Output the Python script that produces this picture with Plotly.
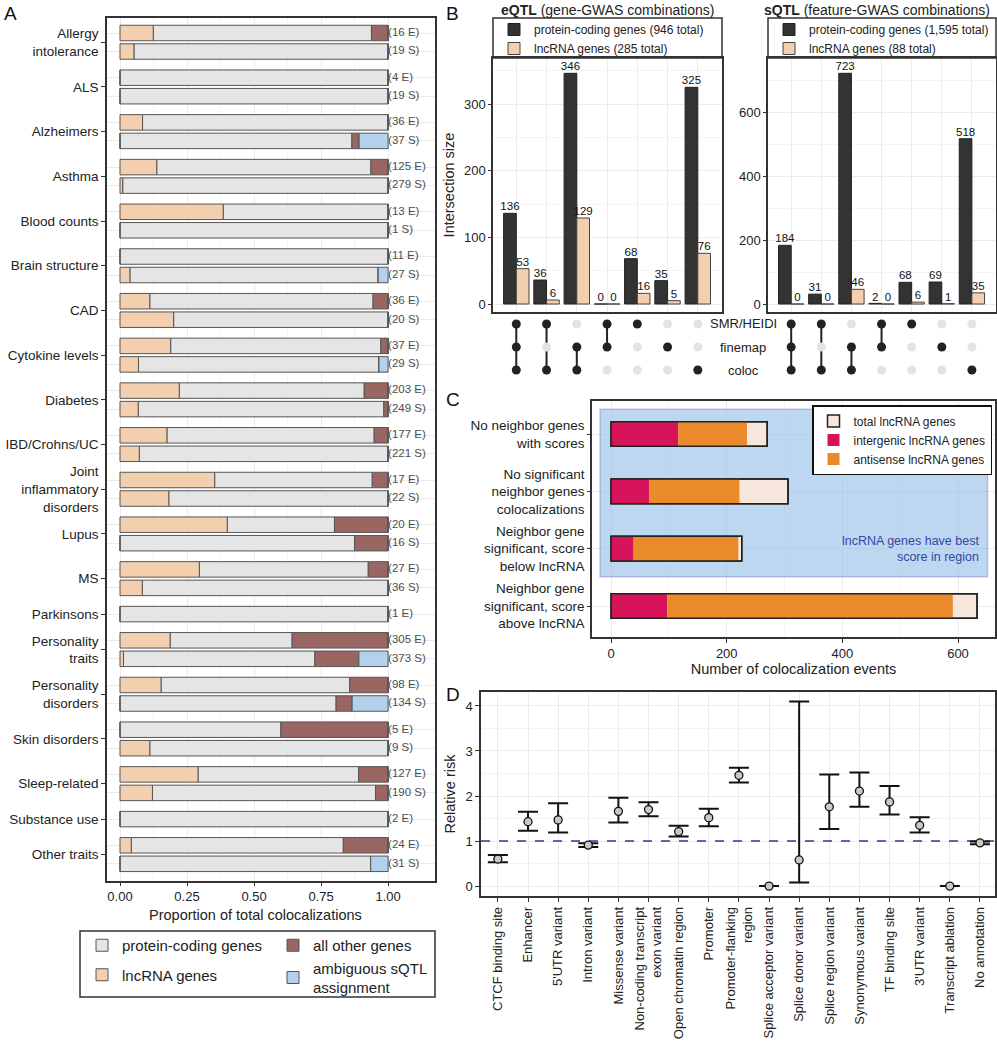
import plotly.graph_objects as go

W, H = 997, 1050
FONT = "Liberation Sans"

def fx(p):
    return p / W

def fy(p):
    return 1 - p / H

# ---------------- Panel A data ----------------
trait_names = ["Allergy<br>intolerance", "ALS", "Alzheimers", "Asthma", "Blood counts",
               "Brain structure", "CAD", "Cytokine levels", "Diabetes", "IBD/Crohns/UC",
               "Joint<br>inflammatory<br>disorders", "Lupus", "MS", "Parkinsons",
               "Personality<br>traits", "Personality<br>disorders", "Skin disorders",
               "Sleep-related", "Substance use", "Other traits"]
bar_trait = [0, 0, 1, 1, 2, 2, 3, 3, 4, 4, 5, 5, 6, 6, 7, 7, 8, 8, 9, 9,
             10, 10, 11, 11, 12, 12, 13, 14, 14, 15, 15, 16, 16, 17, 17, 18, 19, 19]
bar_label = ["(16 E)", "(19 S)", "(4 E)", "(19 S)", "(36 E)", "(37 S)", "(125 E)", "(279 S)",
             "(13 E)", "(1 S)", "(11 E)", "(27 S)", "(36 E)", "(20 S)", "(37 E)", "(29 S)",
             "(203 E)", "(249 S)", "(177 E)", "(221 S)", "(17 E)", "(22 S)", "(20 E)", "(16 S)",
             "(27 E)", "(36 S)", "(1 E)", "(305 E)", "(373 S)", "(98 E)", "(134 S)",
             "(5 E)", "(9 S)", "(127 E)", "(190 S)", "(2 E)", "(24 E)", "(31 S)"]
frac_lnc = [0.124, 0.052, 0, 0, 0.084, 0, 0.137, 0.010, 0.385, 0, 0, 0.037, 0.111, 0.200,
            0.189, 0.069, 0.221, 0.068, 0.175, 0.072, 0.353, 0.182, 0.400, 0, 0.296, 0.083,
            0, 0.187, 0.013, 0.153, 0, 0, 0.111, 0.291, 0.121, 0, 0.042, 0]
frac_pc = [0.814, 0.948, 1, 1, 0.916, 0.865, 0.799, 0.990, 0.615, 1, 1, 0.926, 0.833, 0.800,
           0.784, 0.897, 0.690, 0.916, 0.773, 0.928, 0.588, 0.818, 0.400, 0.875, 0.630, 0.917,
           1, 0.455, 0.714, 0.704, 0.806, 0.600, 0.889, 0.599, 0.832, 1, 0.791, 0.935]
frac_other = [0.062, 0, 0, 0, 0, 0.027, 0.064, 0, 0, 0, 0, 0, 0.056, 0,
              0.027, 0, 0.089, 0.016, 0.052, 0, 0.059, 0, 0.200, 0.125, 0.074, 0,
              0, 0.358, 0.164, 0.143, 0.060, 0.400, 0, 0.110, 0.047, 0, 0.167, 0]
frac_amb = [0, 0, 0, 0, 0, 0.108, 0, 0, 0, 0, 0, 0.037, 0, 0,
            0, 0.034, 0, 0, 0, 0, 0, 0, 0, 0, 0, 0,
            0, 0, 0.109, 0, 0.134, 0, 0, 0, 0, 0, 0, 0.065]
a_xticks = [0, 0.25, 0.5, 0.75, 1.0]

# ---------------- Panel B data ----------------
upset_cols = [0, 1, 2, 3, 4, 5, 6]
in_smr = [1, 1, 0, 1, 1, 0, 0]
in_finemap = [1, 0, 1, 1, 0, 1, 0]
in_coloc = [1, 1, 1, 0, 0, 0, 1]
set_names = ["SMR/HEIDI", "finemap", "coloc"]
eqtl_pc = [136, 36, 346, 0, 68, 35, 325]
eqtl_lnc = [53, 6, 129, 0, 16, 5, 76]
sqtl_pc = [184, 31, 723, 2, 68, 69, 518]
sqtl_lnc = [0, 0, 46, 0, 6, 1, 35]
eqtl_names = ["protein-coding genes (946 total)", "lncRNA genes (285 total)"]
sqtl_names = ["protein-coding genes (1,595 total)", "lncRNA genes (88 total)"]

# ---------------- Panel C data ----------------
c_categories = ["No neighbor genes<br>with scores", "No significant<br>neighbor genes<br>colocalizations",
                "Neighbor gene<br>significant, score<br>below lncRNA",
                "Neighbor gene<br>significant, score<br>above lncRNA"]
c_total = [270, 306, 226, 633]
c_intergenic = [116, 66, 39, 97]
c_antisense = [119, 156, 181, 494]

# ---------------- Panel D data ----------------
d_categories = ["CTCF binding site", "Enhancer", "5'UTR variant", "Intron variant",
                "Missense variant", "Non-coding transcript<br>exon variant", "Open chromatin region",
                "Promoter", "Promoter-flanking<br>region", "Splice acceptor variant",
                "Splice donor variant", "Splice region variant", "Synonymous variant",
                "TF binding site", "3'UTR variant", "Transcript ablation", "No annotation"]
d_rr = [0.60, 1.43, 1.47, 0.91, 1.66, 1.70, 1.21, 1.52, 2.46, 0.0, 0.58, 1.76, 2.11, 1.87, 1.35, 0.0, 0.96]
d_low = [0.53, 1.23, 1.19, 0.87, 1.41, 1.55, 1.10, 1.33, 2.30, 0.0, 0.08, 1.27, 1.76, 1.59, 1.19, 0.0, 0.93]
d_high = [0.69, 1.65, 1.84, 0.95, 1.96, 1.86, 1.34, 1.72, 2.63, 0.0, 4.10, 2.48, 2.52, 2.22, 1.53, 0.0, 0.99]
d_null = 1.0

# colours
C_PC = "#e5e5e5"
C_LNC = "#f3cfb0"
C_OTHER = "#9a6664"
C_AMB = "#b3d0ec"
C_DARK = "#333333"
C_TOT = "#f7e6dc"
C_INT = "#d7145a"
C_ANTI = "#ea8a2b"
GRID = "#ebebeb"
BORDER = "#333333"

fig = go.Figure()

# ---- Panel A positions (layout spacing from group membership) ----
within_gap, between_gap = 18.5, 26.2
ypos = []
cur = 0.0
for i, t in enumerate(bar_trait):
    if i > 0:
        cur += within_gap if bar_trait[i - 1] == t else between_gap
    ypos.append(cur)
group_centers = []
for g in range(len(trait_names)):
    ys = [ypos[i] for i in range(len(bar_trait)) if bar_trait[i] == g]
    group_centers.append(sum(ys) / len(ys))

base_pc = list(frac_lnc)
base_other = [a + b for a, b in zip(frac_lnc, frac_pc)]
base_amb = [a + b for a, b in zip(base_other, frac_other)]
bar_h = 15.5
seg_line = dict(color="#555555", width=1)
fig.add_trace(go.Bar(orientation="h", y=ypos, x=frac_pc, base=base_pc, width=bar_h,
                     marker=dict(color=C_PC, line=seg_line), name="protein-coding genes",
                     xaxis="x", yaxis="y", legend="legend", legendgroup="a1"))
fig.add_trace(go.Bar(orientation="h", y=ypos, x=frac_lnc, base=[0] * len(ypos), width=bar_h,
                     marker=dict(color=C_LNC, line=seg_line), name="lncRNA genes",
                     xaxis="x", yaxis="y", legend="legend", legendgroup="a2"))
fig.add_trace(go.Bar(orientation="h", y=ypos, x=frac_other, base=base_other, width=bar_h,
                     marker=dict(color=C_OTHER, line=seg_line), name="all other genes",
                     xaxis="x", yaxis="y", legend="legend2", legendgroup="a3"))
fig.add_trace(go.Bar(orientation="h", y=ypos, x=frac_amb, base=base_amb, width=bar_h,
                     marker=dict(color=C_AMB, line=seg_line), name="ambiguous sQTL<br>assignment",
                     xaxis="x", yaxis="y", legend="legend2", legendgroup="a4"))
bar_end = [a + b for a, b in zip(base_amb, frac_amb)]
fig.add_trace(go.Scatter(x=bar_end, y=ypos, mode="text", text=bar_label,
                         textposition="middle right", cliponaxis=False,
                         textfont=dict(family=FONT, size=11.5, color="#4d4d4d"),
                         showlegend=False, hoverinfo="skip", xaxis="x", yaxis="y"))

# ---- Panel B ----
def upset(pc_vals, lnc_vals, names, xa, ya, xm, ym, leg):
    bw = 0.42
    fig.add_trace(go.Bar(x=upset_cols, y=pc_vals, width=bw, offset=-bw,
                         marker=dict(color=C_DARK, line=dict(color="#222", width=1)),
                         name=names[0], xaxis=xa, yaxis=ya, legend=leg, legendgroup=leg + "p"))
    fig.add_trace(go.Bar(x=upset_cols, y=lnc_vals, width=bw, offset=0,
                         marker=dict(color=C_LNC, line=dict(color="#444", width=1)),
                         name=names[1], xaxis=xa, yaxis=ya, legend=leg, legendgroup=leg + "l"))
    fig.add_trace(go.Scatter(x=[c - bw / 2 for c in upset_cols], y=pc_vals, mode="text",
                             text=[str(v) for v in pc_vals], textposition="top center",
                             cliponaxis=False,
                             textfont=dict(family=FONT, size=11.5, color="#111"),
                             showlegend=False, hoverinfo="skip", xaxis=xa, yaxis=ya))
    fig.add_trace(go.Scatter(x=[c + bw / 2 for c in upset_cols], y=lnc_vals, mode="text",
                             text=[str(v) for v in lnc_vals], textposition="top center",
                             cliponaxis=False,
                             textfont=dict(family=FONT, size=11.5, color="#111"),
                             showlegend=False, hoverinfo="skip", xaxis=xa, yaxis=ya))
    members = [in_smr, in_finemap, in_coloc]
    for c in upset_cols:
        rows = [r for r in range(3) if members[r][c]]
        if len(rows) > 1:
            fig.add_trace(go.Scatter(x=[c, c], y=[min(rows), max(rows)], mode="lines",
                                     line=dict(color="#222", width=2), showlegend=False,
                                     hoverinfo="skip", xaxis=xm, yaxis=ym))
    xs, ys, cols = [], [], []
    for r in range(3):
        for c in upset_cols:
            xs.append(c)
            ys.append(r)
            cols.append("#222222" if members[r][c] else "#e3e3e3")
    fig.add_trace(go.Scatter(x=xs, y=ys, mode="markers", cliponaxis=False,
                             marker=dict(color=cols, size=9), showlegend=False,
                             hoverinfo="skip", xaxis=xm, yaxis=ym))

upset(eqtl_pc, eqtl_lnc, eqtl_names, "x2", "y2", "x3", "y3", "legend3")
upset(sqtl_pc, sqtl_lnc, sqtl_names, "x4", "y4", "x5", "y5", "legend4")

# ---- Panel C ----
c_y = list(range(len(c_categories)))
cw = 0.43
fig.add_trace(go.Bar(orientation="h", y=c_y, x=c_total, base=[0] * 4, width=cw,
                     marker=dict(color=C_TOT, line=dict(color="#222", width=1.5)),
                     name="total lncRNA genes", xaxis="x6", yaxis="y6", legend="legend5",
                     legendgroup="c1"))
fig.add_trace(go.Bar(orientation="h", y=c_y, x=c_intergenic, base=[0] * 4, width=cw,
                     marker=dict(color=C_INT, line=dict(width=0)),
                     name="intergenic lncRNA genes", xaxis="x6", yaxis="y6", legend="legend5",
                     legendgroup="c2"))
fig.add_trace(go.Bar(orientation="h", y=c_y, x=c_antisense, base=c_intergenic, width=cw,
                     marker=dict(color=C_ANTI, line=dict(width=0)),
                     name="antisense lncRNA genes", xaxis="x6", yaxis="y6", legend="legend5",
                     legendgroup="c3"))
fig.add_trace(go.Bar(orientation="h", y=c_y, x=c_total, base=[0] * 4, width=cw,
                     marker=dict(color="rgba(0,0,0,0)", line=dict(color="#222", width=1.5)),
                     showlegend=False, hoverinfo="skip", xaxis="x6", yaxis="y6"))

# ---- Panel D ----
d_x = list(range(len(d_categories)))
d_xrange = [-0.56, 16.5]
fig.add_trace(go.Scatter(
    x=d_x, y=d_rr, mode="markers", cliponaxis=False,
    marker=dict(color="#c8c8c8", size=8, line=dict(color="#111", width=1.3)),
    error_y=dict(type="data", symmetric=False,
                 array=[h - r for h, r in zip(d_high, d_rr)],
                 arrayminus=[r - l for r, l in zip(d_rr, d_low)],
                 color="#111", thickness=2, width=10),
    showlegend=False, xaxis="x7", yaxis="y7"))

# ---------------- Layout ----------------
tickfont = dict(family=FONT, size=13, color="#222")
axline = dict(showline=True, linecolor=BORDER, linewidth=1.5, mirror=True)

layout = dict(
    width=W, height=H, template="none",
    margin=dict(l=0, r=0, t=0, b=0),
    paper_bgcolor="white", plot_bgcolor="white",
    font=dict(family=FONT, size=13, color="#222"),
    barmode="overlay",
)

# Panel A axes
layout["xaxis"] = dict(domain=[fx(107), fx(435)], range=[-0.0485, 1.175], anchor="y",
                       tickvals=a_xticks, ticktext=[f"{v:.2f}" for v in a_xticks],
                       ticks="outside", ticklen=3, tickcolor=BORDER, tickfont=tickfont,
                       showgrid=True, gridcolor=GRID, zeroline=False, automargin=False,
                       minor=dict(tickvals=[0.125, 0.375, 0.625, 0.875], showgrid=True,
                                  gridcolor="#f4f4f4"),
                       **axline)
layout["yaxis"] = dict(domain=[fy(881), fy(18)], range=[848, -15], anchor="x",
                       tickvals=group_centers, ticktext=trait_names, ticks="outside",
                       ticklen=4, tickcolor=BORDER, tickfont=dict(family=FONT, size=13.5, color="#222"),
                       showgrid=False, zeroline=False, automargin=False,
                       minor=dict(tickvals=ypos, showgrid=True, gridcolor=GRID, ticks=""),
                       **axline)

# Panel B axes
def b_axes(xn, yn, xmn, ymn, left, right, yrange, yticks):
    layout["xaxis" + xn] = dict(domain=[fx(left), fx(right)], range=[-0.77, 6.8], anchor="y" + yn,
                                tickvals=upset_cols, showticklabels=False, ticks="",
                                showgrid=True, gridcolor=GRID, zeroline=False, automargin=False,
                                **axline)
    layout["yaxis" + yn] = dict(domain=[fy(312), fy(58)], range=yrange, anchor="x" + xn,
                                tickvals=yticks, ticks="outside", ticklen=3, tickcolor=BORDER,
                                tickfont=tickfont, showgrid=True, gridcolor=GRID, zeroline=False,
                                automargin=False,
                                minor=dict(tickvals=[v + (yticks[1] - yticks[0]) / 2 for v in yticks],
                                           showgrid=True, gridcolor="#f4f4f4"),
                                **axline)
    layout["xaxis" + xmn] = dict(domain=[fx(left), fx(right)], matches="x" + xn, anchor="y" + ymn,
                                 showticklabels=False, ticks="", showgrid=False, zeroline=False,
                                 showline=False, automargin=False)
    layout["yaxis" + ymn] = dict(domain=[fy(382), fy(312)], range=[2.52, -0.52], anchor="x" + xmn,
                                 showticklabels=False, ticks="", showgrid=False, zeroline=False,
                                 showline=False, automargin=False)

b_axes("2", "2", "3", "3", 493, 722, [-12, 369], [0, 100, 200, 300])
b_axes("4", "4", "5", "5", 768, 996, [-25, 771], [0, 200, 400, 600])
layout["yaxis2"]["title"] = dict(text="Intersection size", font=dict(family=FONT, size=14.5, color="#222"),
                                 standoff=6)

# Panel C axes
layout["xaxis6"] = dict(domain=[fx(592), fx(995)], range=[-33, 664], anchor="y6",
                        tickvals=[0, 200, 400, 600], ticks="outside", ticklen=4, tickcolor=BORDER,
                        tickfont=tickfont, showgrid=True, gridcolor=GRID, zeroline=False,
                        automargin=False,
                        minor=dict(tickvals=[100, 300, 500], showgrid=True, gridcolor="#f4f4f4"),
                        title=dict(text="Number of colocalization events",
                                   font=dict(family=FONT, size=14.5, color="#222"), standoff=1),
                        **axline)
layout["yaxis6"] = dict(domain=[fy(637), fy(401)], range=[3.54, -0.576], anchor="x6",
                        tickvals=c_y, ticktext=c_categories, ticks="outside", ticklen=3,
                        tickcolor=BORDER, tickfont=dict(family=FONT, size=13.5, color="#222"),
                        showgrid=True, gridcolor=GRID, zeroline=False, automargin=False, **axline)

# Panel D axes
layout["xaxis7"] = dict(domain=[fx(481), fx(995)], range=d_xrange, anchor="y7",
                        tickvals=d_x, ticktext=d_categories, tickangle=-90, ticks="outside",
                        ticklen=4, tickcolor=BORDER, tickfont=tickfont, showgrid=True,
                        gridcolor=GRID, zeroline=False, automargin=False, **axline)
layout["yaxis7"] = dict(domain=[fy(896), fy(692)], range=[-0.22, 4.31], anchor="x7",
                        tickvals=[0, 1, 2, 3, 4], ticks="outside", ticklen=4, tickcolor=BORDER,
                        tickfont=tickfont, showgrid=True, gridcolor=GRID, zeroline=False,
                        automargin=False,
                        minor=dict(tickvals=[0.5, 1.5, 2.5, 3.5], showgrid=True, gridcolor="#f4f4f4"),
                        title=dict(text="Relative risk", font=dict(family=FONT, size=14.5, color="#222"),
                                   standoff=6),
                        **axline)

# Legends
leg_common = dict(bgcolor="rgba(0,0,0,0)", borderwidth=0, xanchor="left", yanchor="top",
                  orientation="v")
layout["legend"] = dict(x=fx(82), y=fy(929), font=dict(family=FONT, size=15, color="#222"),
                        traceorder="grouped", tracegroupgap=7, **leg_common)
layout["legend2"] = dict(x=fx(273), y=fy(929), font=dict(family=FONT, size=15, color="#222"),
                         traceorder="normal", **leg_common)
layout["legend3"] = dict(x=fx(494), y=fy(15), font=dict(family=FONT, size=12, color="#222"),
                         traceorder="normal", **leg_common)
layout["legend4"] = dict(x=fx(769), y=fy(15), font=dict(family=FONT, size=12, color="#222"),
                         traceorder="normal", **leg_common)
layout["legend5"] = dict(x=fx(812), y=fy(405), font=dict(family=FONT, size=12, color="#222"),
                         bgcolor="white", bordercolor="#111", borderwidth=1.5,
                         xanchor="left", yanchor="top", orientation="v", traceorder="normal")

fig.update_layout(**layout)

# Shapes
fig.add_shape(type="rect", xref="paper", yref="paper", x0=fx(80), x1=fx(435), y0=fy(997), y1=fy(931),
              line=dict(color=BORDER, width=1.5), fillcolor="rgba(0,0,0,0)")
fig.add_shape(type="rect", xref="paper", yref="paper", x0=fx(493), x1=fx(722), y0=fy(58), y1=fy(18),
              line=dict(color=BORDER, width=1.5), fillcolor="rgba(0,0,0,0)")
fig.add_shape(type="rect", xref="paper", yref="paper", x0=fx(768), x1=fx(996), y0=fy(58), y1=fy(18),
              line=dict(color=BORDER, width=1.5), fillcolor="rgba(0,0,0,0)")
fig.add_shape(type="rect", xref="x6", yref="y6", x0=-19, x1=651, y0=-0.43, y1=2.49,
              line=dict(color="rgba(150,150,215,0.6)", width=1.5),
              fillcolor="rgba(150,190,230,0.62)", layer="between")
fig.add_shape(type="line", xref="x7", yref="y7", x0=d_xrange[0], x1=d_xrange[1], y0=d_null, y1=d_null,
              line=dict(color="#2b3a99", width=1.6, dash="dash"), layer="between")

# Annotations
ann = []
for txt, x, y in [("A", 2, 1), ("B", 444, 1), ("C", 444, 387), ("D", 444, 682)]:
    ann.append(dict(text=txt, xref="paper", yref="paper", x=fx(x), y=fy(y), xanchor="left",
                    yanchor="top", showarrow=False, font=dict(family=FONT, size=19, color="#111")))
ann.append(dict(text="<b>eQTL</b> (gene-GWAS combinations)", xref="paper", yref="paper",
                x=fx(607), y=fy(10), xanchor="center", yanchor="middle", showarrow=False,
                font=dict(family=FONT, size=14, color="#222")))
ann.append(dict(text="<b>sQTL</b> (feature-GWAS combinations)", xref="paper", yref="paper",
                x=fx(877), y=fy(10), xanchor="center", yanchor="middle", showarrow=False,
                font=dict(family=FONT, size=14, color="#222")))
ann.append(dict(text="Proportion of total colocalizations", xref="paper", yref="paper",
                x=fx(255), y=fy(915), xanchor="center", yanchor="middle", showarrow=False,
                font=dict(family=FONT, size=14.5, color="#222")))
for r, nm in enumerate(set_names):
    ann.append(dict(text=nm, xref="paper", yref="y5", x=fx(743), y=r, xanchor="center",
                    yanchor="middle", showarrow=False, font=dict(family=FONT, size=13, color="#222")))
ann.append(dict(text="lncRNA genes have best<br>score in region", xref="x6", yref="y6",
                x=640, y=2.0, xanchor="right", yanchor="middle", align="right", showarrow=False,
                font=dict(family=FONT, size=12.5, color="#3446a8")))
fig.update_layout(annotations=ann)

fig.write_html("out.html", config={"displayModeBar": False},
               post_script="document.body.style.margin='0px';")
